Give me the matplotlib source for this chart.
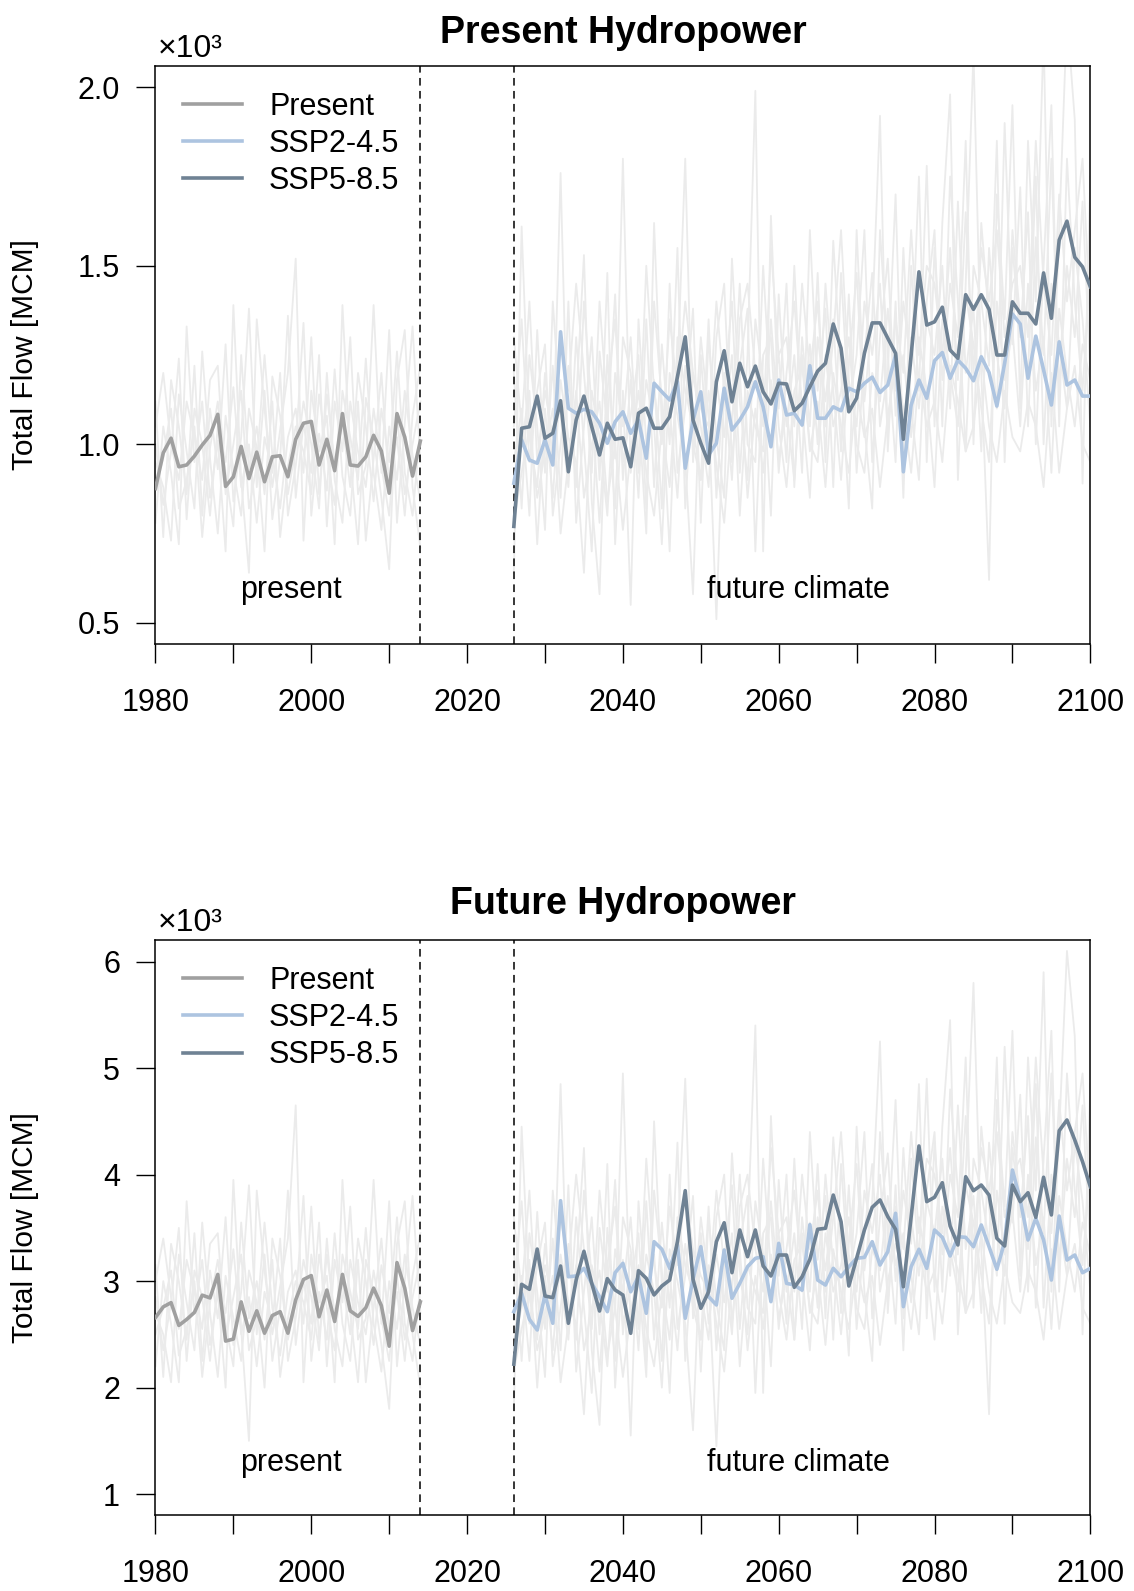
import matplotlib.pyplot as plt

plt.rcParams['font.family'] = ['Liberation Sans', 'DejaVu Sans']

years_present = list(range(1980, 2015))
years_future = list(range(2026, 2101))
xticks = [1980, 1990, 2000, 2010, 2020, 2030, 2040, 2050, 2060, 2070, 2080, 2090, 2100]
xticklabels = ['1980', '', '2000', '', '2020', '', '2040', '', '2060', '', '2080', '', '2100']

# ---------- Present Hydropower (values in 10^3 MCM) ----------
top_present = [0.876, 0.976, 1.017, 0.937, 0.942, 0.967, 0.998, 1.025, 1.084, 0.882,
               0.909, 0.994, 0.904, 0.978, 0.895, 0.965, 0.968, 0.909, 1.014, 1.059,
               1.064, 0.942, 1.014, 0.926, 1.086, 0.942, 0.939, 0.965, 1.025, 0.981,
               0.863, 1.086, 1.020, 0.911, 1.009]
top_ssp245 = [0.891, 1.012, 0.956, 0.947, 1.012, 0.942, 1.315, 1.101, 1.087, 1.098,
              1.091, 1.059, 1.003, 1.063, 1.091, 1.031, 1.068, 0.961, 1.171, 1.147,
              1.124, 1.175, 0.933, 1.068, 1.147, 0.970, 1.003, 1.157, 1.040, 1.068,
              1.105, 1.175, 1.105, 0.993, 1.180, 1.082, 1.087, 1.054, 1.220, 1.073,
              1.073, 1.105, 1.094, 1.157, 1.147, 1.171, 1.188, 1.145, 1.166, 1.250,
              0.923, 1.110, 1.180, 1.129, 1.234, 1.257, 1.185, 1.236, 1.213, 1.178,
              1.245, 1.201, 1.107, 1.227, 1.365, 1.337, 1.185, 1.303, 1.208, 1.110,
              1.287, 1.166, 1.180, 1.135, 1.135]
top_ssp585 = [0.770, 1.045, 1.049, 1.135, 1.017, 1.031, 1.122, 0.923, 1.068, 1.135,
              1.049, 0.970, 1.059, 1.014, 1.018, 0.937, 1.087, 1.101, 1.045, 1.045,
              1.077, 1.189, 1.301, 1.068, 1.003, 0.947, 1.175, 1.262, 1.119, 1.227,
              1.161, 1.219, 1.147, 1.113, 1.171, 1.169, 1.094, 1.115, 1.161, 1.205,
              1.227, 1.337, 1.269, 1.091, 1.129, 1.255, 1.340, 1.340, 1.297, 1.255,
              1.014, 1.250, 1.483, 1.334, 1.343, 1.384, 1.264, 1.241, 1.419, 1.378,
              1.419, 1.378, 1.250, 1.250, 1.399, 1.367, 1.367, 1.337, 1.480, 1.353,
              1.572, 1.625, 1.524, 1.497, 1.441]

# individual climate model runs (faint lines)
top_runs_present = [
    [0.78, 1.05, 0.92, 0.72, 1.33, 0.95, 1.12, 0.85, 1.01, 0.70, 1.39, 0.90, 0.64, 1.35, 1.10,
     0.88, 1.04, 1.20, 1.52, 0.73, 1.15, 0.98, 1.08, 0.72, 1.39, 0.96, 0.72, 1.13, 1.02, 0.85,
     0.65, 1.18, 1.32, 0.88, 0.71],
    [1.12, 0.74, 1.18, 1.05, 0.86, 1.22, 0.80, 1.10, 0.93, 1.28, 0.84, 1.02, 1.38, 0.88, 1.15,
     0.79, 0.96, 1.36, 0.85, 1.06, 0.92, 1.25, 0.77, 1.12, 0.98, 1.30, 0.86, 0.94, 1.39, 0.92,
     1.32, 0.78, 1.06, 1.33, 0.95],
    [0.95, 0.88, 0.73, 1.14, 0.98, 0.82, 1.26, 0.96, 0.75, 1.08, 0.93, 0.80, 1.10, 0.99, 0.70,
     1.19, 1.08, 0.86, 0.99, 1.34, 0.80, 1.03, 0.87, 1.21, 0.91, 0.80, 1.12, 0.73, 0.96, 1.20,
     0.88, 1.02, 0.80, 1.08, 1.22],
    [1.05, 1.20, 1.00, 0.90, 1.12, 1.02, 0.90, 1.18, 1.22, 0.86, 1.00, 1.15, 0.82, 0.94, 1.25,
     0.97, 0.82, 1.02, 1.10, 0.92, 1.30, 0.86, 1.14, 0.95, 1.06, 0.88, 1.20, 1.05, 0.84, 1.10,
     0.95, 1.26, 0.92, 0.80, 1.04],
    [0.88, 0.96, 1.10, 0.82, 0.90, 1.05, 0.74, 0.99, 1.12, 0.92, 0.77, 1.25, 0.93, 1.05, 0.86,
     1.12, 0.74, 0.94, 1.05, 0.98, 0.86, 1.14, 0.97, 0.83, 1.15, 1.02, 0.90, 1.24, 0.92, 0.76,
     1.05, 0.90, 1.15, 0.97, 0.84],
    [1.00, 0.83, 0.98, 1.24, 0.79, 1.10, 1.00, 0.80, 1.05, 0.95, 1.16, 0.88, 1.00, 0.78, 1.02,
     0.92, 1.20, 0.80, 0.94, 1.12, 1.00, 0.82, 1.20, 0.90, 0.78, 1.12, 0.98, 0.88, 1.10, 0.94,
     0.80, 1.08, 0.86, 1.00, 1.12],
]
top_runs_future = [
    [0.64, 1.61, 1.02, 0.88, 1.20, 0.95, 1.76, 0.90, 1.12, 1.53, 0.84, 0.58, 1.25, 0.96, 1.80,
     0.92, 1.10, 0.75, 1.62, 1.05, 0.88, 1.20, 1.80, 0.95, 1.30, 1.08, 0.51, 1.15, 1.40, 0.92,
     1.25, 1.99, 0.70, 1.64, 1.10, 1.45, 0.88, 1.30, 1.05, 1.48, 0.95, 1.57, 1.20, 0.82, 1.60,
     1.12, 1.35, 1.92, 0.98, 1.40, 0.85, 1.50, 1.15, 1.78, 1.05, 1.62, 1.98, 0.90, 1.45, 2.10,
     1.20, 0.62, 1.70, 1.35, 1.95, 1.10, 1.85, 1.40, 2.15, 1.05, 1.60, 2.20, 1.91, 0.89, 1.75],
    [0.95, 1.10, 0.80, 1.32, 0.92, 1.22, 0.85, 1.40, 0.78, 1.05, 1.30, 0.90, 1.48, 0.72, 1.15,
     0.55, 1.35, 1.00, 1.18, 0.82, 1.45, 0.92, 1.10, 1.38, 0.78, 1.30, 1.02, 0.85, 1.52, 1.12,
     0.90, 1.35, 1.18, 0.80, 1.42, 1.05, 1.25, 0.92, 1.60, 1.15, 1.38, 0.88, 1.48, 1.10, 1.25,
     1.60, 0.95, 1.30, 1.52, 1.08, 1.40, 1.22, 1.75, 0.95, 1.55, 1.18, 1.45, 1.30, 1.85, 1.00,
     1.62, 1.35, 1.10, 1.90, 1.28, 1.72, 1.05, 1.58, 1.25, 1.80, 1.15, 1.50, 1.30, 1.68, 1.20],
    [1.20, 0.82, 1.25, 1.05, 0.76, 1.40, 1.08, 0.88, 1.30, 1.00, 0.70, 1.26, 1.05, 1.42, 0.90,
     1.18, 0.85, 1.35, 0.88, 1.28, 1.00, 1.55, 0.82, 1.20, 1.05, 0.88, 1.30, 1.45, 0.95, 1.22,
     1.38, 0.70, 1.25, 1.30, 0.92, 1.20, 1.40, 1.10, 0.85, 1.30, 1.12, 1.35, 0.98, 1.42, 0.92,
     1.25, 1.48, 1.05, 1.20, 1.70, 0.95, 1.30, 1.10, 1.35, 1.25, 1.50, 1.10, 1.68, 1.20, 1.38,
     0.98, 1.55, 1.25, 1.10, 1.60, 1.35, 1.20, 1.75, 1.00, 1.45, 1.28, 1.10, 1.55, 1.35, 1.05],
    [0.88, 1.00, 1.15, 0.72, 1.10, 0.85, 1.18, 1.02, 0.95, 0.64, 1.15, 1.02, 0.80, 1.20, 1.05,
     1.30, 0.92, 1.18, 1.05, 0.72, 1.20, 1.08, 0.95, 0.58, 1.25, 0.95, 1.18, 1.02, 1.25, 0.80,
     1.15, 1.05, 0.98, 1.35, 1.05, 0.88, 1.15, 1.22, 1.00, 0.95, 1.25, 1.05, 1.15, 1.30, 1.00,
     0.92, 1.20, 1.12, 1.38, 1.15, 1.25, 1.02, 1.30, 1.15, 0.88, 1.35, 1.20, 1.05, 1.42, 1.28,
     1.10, 0.95, 1.40, 1.18, 1.32, 1.05, 1.45, 1.15, 1.30, 0.92, 1.38, 1.20, 1.05, 1.28, 1.18],
    [1.05, 1.35, 0.95, 1.15, 1.28, 0.80, 1.00, 1.22, 0.88, 1.40, 1.10, 0.78, 1.15, 1.35, 0.95,
     1.08, 1.25, 0.82, 1.40, 1.12, 0.70, 1.30, 1.15, 1.05, 0.90, 1.35, 0.85, 1.20, 1.05, 1.45,
     1.00, 0.95, 1.50, 1.12, 1.25, 0.95, 1.50, 1.05, 1.28, 1.00, 1.45, 1.15, 0.90, 1.22, 1.48,
     1.05, 0.82, 1.60, 1.25, 0.95, 1.55, 1.10, 0.90, 1.40, 1.60, 1.05, 1.75, 1.40, 0.98, 1.50,
     1.40, 1.22, 1.85, 0.95, 1.55, 1.30, 1.65, 1.00, 1.50, 1.95, 1.05, 1.80, 1.40, 1.15, 1.50],
    [0.78, 0.92, 1.05, 0.85, 0.98, 1.10, 0.75, 0.95, 1.15, 0.85, 1.00, 1.12, 0.84, 1.00, 0.76,
     0.98, 1.15, 0.92, 0.80, 1.05, 1.10, 0.85, 1.22, 1.00, 0.90, 1.15, 0.94, 0.78, 1.08, 1.20,
     0.85, 1.10, 0.92, 1.18, 0.96, 1.10, 0.90, 1.25, 0.98, 1.12, 0.88, 1.20, 1.05, 0.92, 1.15,
     1.02, 1.10, 0.88, 1.08, 1.22, 1.10, 0.92, 1.20, 1.05, 1.12, 0.95, 1.22, 1.12, 0.98, 1.05,
     1.25, 1.05, 0.95, 1.15, 1.02, 0.98, 1.12, 1.05, 0.88, 1.20, 0.92, 1.10, 1.22, 1.00, 0.95],
    [1.30, 1.05, 1.40, 0.95, 1.15, 1.02, 1.30, 1.15, 1.45, 1.20, 0.92, 1.40, 1.10, 0.82, 1.30,
     1.20, 0.95, 1.50, 1.15, 1.00, 1.35, 1.15, 1.40, 1.20, 1.10, 1.05, 1.40, 1.15, 0.90, 1.35,
     1.45, 1.20, 1.05, 1.55, 1.25, 1.30, 1.05, 1.45, 1.20, 1.40, 1.05, 1.30, 1.60, 1.18, 1.05,
     1.40, 1.25, 1.45, 1.02, 1.35, 1.20, 1.60, 1.25, 1.50, 1.45, 1.25, 1.55, 1.18, 1.65, 1.20,
     1.55, 1.40, 1.60, 1.30, 1.45, 1.50, 1.30, 1.85, 1.45, 1.25, 1.70, 1.40, 1.60, 1.80, 1.35],
]

# ---------- Future Hydropower (values in 10^3 MCM) ----------
bot_present = [2.658, 2.758, 2.798, 2.584, 2.640, 2.706, 2.868, 2.842, 3.063, 2.437,
               2.456, 2.805, 2.529, 2.721, 2.511, 2.677, 2.713, 2.511, 2.824, 3.015,
               3.052, 2.665, 2.916, 2.621, 3.063, 2.721, 2.669, 2.750, 2.934, 2.769,
               2.389, 3.174, 2.934, 2.536, 2.805]
bot_ssp245 = [2.713, 2.885, 2.641, 2.541, 2.870, 2.604, 3.755, 3.041, 3.048, 3.120,
              2.979, 2.854, 2.713, 3.079, 3.167, 2.900, 3.041, 2.698, 3.370, 3.299,
              3.120, 3.339, 2.651, 3.017, 3.323, 2.854, 2.776, 3.292, 2.839, 2.979,
              3.135, 3.214, 3.229, 2.807, 3.355, 2.979, 2.964, 2.915, 3.530, 3.010,
              2.963, 3.120, 3.041, 3.135, 3.214, 3.223, 3.370, 3.151, 3.276, 3.637,
              2.760, 3.135, 3.299, 3.120, 3.480, 3.411, 3.236, 3.417, 3.411, 3.323,
              3.527, 3.323, 3.111, 3.370, 4.043, 3.762, 3.386, 3.590, 3.386, 3.010,
              3.611, 3.198, 3.245, 3.079, 3.120]
bot_ssp585 = [2.220, 2.970, 2.923, 3.301, 2.860, 2.845, 3.142, 2.604, 3.010, 3.280,
              2.979, 2.719, 3.023, 2.917, 2.870, 2.510, 3.098, 3.026, 2.870, 2.954,
              3.010, 3.370, 3.849, 3.017, 2.745, 2.900, 3.370, 3.548, 3.079, 3.480,
              3.229, 3.480, 3.142, 3.048, 3.245, 3.245, 2.942, 3.041, 3.205, 3.487,
              3.496, 3.808, 3.558, 2.954, 3.214, 3.480, 3.693, 3.762, 3.605, 3.486,
              2.947, 3.605, 4.269, 3.746, 3.787, 3.924, 3.517, 3.339, 3.980, 3.849,
              3.902, 3.808, 3.402, 3.330, 3.902, 3.746, 3.830, 3.599, 3.975, 3.621,
              4.412, 4.513, 4.325, 4.121, 3.886]

bot_runs_present = [
    [2.20, 3.00, 2.60, 2.05, 3.75, 2.70, 3.20, 2.40, 2.90, 2.00, 3.95, 2.55, 1.50, 3.85, 3.10,
     2.50, 2.95, 3.40, 4.65, 2.05, 3.25, 2.80, 3.05, 2.05, 3.95, 2.70, 2.05, 3.20, 2.90, 2.40,
     1.80, 3.35, 3.75, 2.50, 2.00],
    [3.15, 2.10, 3.35, 3.00, 2.45, 3.45, 2.25, 3.10, 2.65, 3.60, 2.40, 2.90, 3.90, 2.50, 3.25,
     2.25, 2.75, 3.85, 2.40, 3.00, 2.60, 3.55, 2.20, 3.20, 2.80, 3.70, 2.45, 2.65, 3.95, 2.60,
     3.75, 2.20, 3.00, 3.80, 2.70],
    [2.70, 2.50, 2.05, 3.25, 2.80, 2.35, 3.55, 2.70, 2.10, 3.05, 2.65, 2.25, 3.10, 2.80, 2.00,
     3.40, 3.05, 2.45, 2.80, 3.80, 2.25, 2.90, 2.45, 3.45, 2.60, 2.25, 3.20, 2.05, 2.75, 3.40,
     2.50, 2.90, 2.25, 3.05, 3.45],
    [3.00, 3.40, 2.85, 2.55, 3.20, 2.90, 2.55, 3.35, 3.45, 2.45, 2.85, 3.25, 2.35, 2.65, 3.55,
     2.75, 2.30, 2.90, 3.10, 2.60, 3.70, 2.45, 3.25, 2.70, 3.00, 2.50, 3.40, 3.00, 2.40, 3.15,
     2.70, 3.60, 2.60, 2.25, 2.95],
    [2.50, 2.75, 3.10, 2.30, 2.55, 3.00, 2.10, 2.80, 3.20, 2.60, 2.20, 3.55, 2.65, 3.00, 2.45,
     3.20, 2.10, 2.65, 3.00, 2.80, 2.45, 3.25, 2.75, 2.35, 3.25, 2.90, 2.55, 3.50, 2.60, 2.15,
     3.00, 2.55, 3.25, 2.75, 2.40],
    [2.85, 2.35, 2.80, 3.50, 2.25, 3.10, 2.85, 2.25, 3.00, 2.70, 3.30, 2.50, 2.85, 2.20, 2.90,
     2.60, 3.40, 2.25, 2.65, 3.20, 2.85, 2.35, 3.40, 2.55, 2.20, 3.20, 2.80, 2.50, 3.10, 2.65,
     2.25, 3.05, 2.45, 2.85, 3.20],
]
bot_runs_future = [
    [1.80, 4.45, 2.85, 2.45, 3.35, 2.65, 4.85, 2.50, 3.10, 4.25, 2.35, 1.65, 3.50, 2.70, 4.95,
     2.55, 3.05, 2.10, 4.50, 2.95, 2.45, 3.35, 4.90, 2.65, 3.60, 3.00, 1.45, 3.20, 3.90, 2.55,
     3.45, 5.40, 1.95, 4.55, 3.05, 4.00, 2.45, 3.60, 2.90, 4.10, 2.65, 4.35, 3.30, 2.30, 4.45,
     3.10, 3.75, 5.25, 2.70, 3.90, 2.35, 4.15, 3.20, 4.90, 2.90, 4.45, 5.45, 2.50, 4.00, 5.80,
     3.30, 1.75, 4.70, 3.70, 5.35, 3.05, 5.10, 3.85, 5.90, 2.90, 4.40, 6.10, 5.30, 2.50, 4.85],
    [2.65, 3.05, 2.25, 3.65, 2.55, 3.40, 2.35, 3.90, 2.15, 2.90, 3.60, 2.50, 4.10, 2.00, 3.20,
     1.55, 3.75, 2.80, 3.25, 2.25, 4.00, 2.55, 3.05, 3.80, 2.15, 3.60, 2.80, 2.35, 4.20, 3.10,
     2.50, 3.75, 3.25, 2.20, 3.95, 2.90, 3.45, 2.55, 4.40, 3.20, 3.80, 2.45, 4.10, 3.05, 3.45,
     4.40, 2.65, 3.60, 4.20, 3.00, 3.85, 3.35, 4.85, 2.65, 4.30, 3.25, 4.00, 3.60, 5.10, 2.75,
     4.45, 3.70, 3.05, 5.20, 3.55, 4.75, 2.90, 4.35, 3.45, 4.95, 3.15, 4.15, 3.60, 4.65, 3.30],
    [3.30, 2.25, 3.45, 2.90, 2.10, 3.85, 3.00, 2.45, 3.60, 2.75, 1.95, 3.50, 2.90, 3.95, 2.50,
     3.25, 2.35, 3.75, 2.45, 3.55, 2.75, 4.30, 2.25, 3.30, 2.90, 2.45, 3.60, 4.00, 2.60, 3.35,
     3.80, 1.95, 3.45, 3.60, 2.55, 3.30, 3.85, 3.05, 2.35, 3.60, 3.10, 3.75, 2.70, 3.90, 2.55,
     3.45, 4.10, 2.90, 3.30, 4.70, 2.65, 3.60, 3.05, 3.75, 3.45, 4.15, 3.05, 4.65, 3.30, 3.80,
     2.70, 4.30, 3.45, 3.05, 4.40, 3.75, 3.30, 4.85, 2.75, 4.00, 3.55, 3.05, 4.30, 3.75, 2.90],
    [2.45, 2.75, 3.20, 2.00, 3.05, 2.35, 3.25, 2.80, 2.60, 1.75, 3.15, 2.80, 2.20, 3.30, 2.90,
     3.60, 2.55, 3.25, 2.90, 2.00, 3.30, 3.00, 2.60, 1.60, 3.45, 2.60, 3.25, 2.80, 3.45, 2.20,
     3.15, 2.90, 2.70, 3.75, 2.90, 2.45, 3.20, 3.35, 2.75, 2.60, 3.45, 2.90, 3.15, 3.60, 2.75,
     2.55, 3.30, 3.10, 3.80, 3.15, 3.45, 2.80, 3.60, 3.15, 2.45, 3.70, 3.30, 2.90, 3.90, 3.55,
     3.05, 2.60, 3.85, 3.25, 3.65, 2.90, 4.00, 3.15, 3.60, 2.55, 3.80, 3.30, 2.90, 3.55, 3.25],
    [2.90, 3.75, 2.60, 3.15, 3.55, 2.20, 2.75, 3.35, 2.45, 3.85, 3.05, 2.15, 3.15, 3.70, 2.60,
     2.95, 3.45, 2.25, 3.85, 3.10, 1.95, 3.60, 3.15, 2.90, 2.45, 3.70, 2.35, 3.30, 2.90, 4.00,
     2.75, 2.60, 4.15, 3.10, 3.45, 2.60, 4.15, 2.90, 3.55, 2.75, 4.00, 3.15, 2.50, 3.35, 4.10,
     2.90, 2.25, 4.40, 3.45, 2.60, 4.25, 3.05, 2.50, 3.85, 4.40, 2.90, 4.80, 3.85, 2.70, 4.15,
     3.85, 3.35, 5.10, 2.60, 4.25, 3.60, 4.55, 2.75, 4.15, 5.35, 2.90, 4.95, 3.85, 3.15, 4.15],
    [2.15, 2.55, 2.90, 2.35, 2.70, 3.05, 2.05, 2.60, 3.15, 2.35, 2.75, 3.10, 2.30, 2.75, 2.10,
     2.70, 3.15, 2.55, 2.20, 2.90, 3.05, 2.35, 3.35, 2.75, 2.45, 3.15, 2.60, 2.15, 3.00, 3.30,
     2.35, 3.05, 2.55, 3.25, 2.65, 3.05, 2.45, 3.45, 2.70, 3.10, 2.40, 3.30, 2.90, 2.55, 3.15,
     2.80, 3.05, 2.40, 3.00, 3.35, 3.05, 2.55, 3.30, 2.90, 3.10, 2.60, 3.35, 3.10, 2.70, 2.90,
     3.45, 2.90, 2.60, 3.15, 2.80, 2.70, 3.10, 2.90, 2.45, 3.30, 2.55, 3.05, 3.35, 2.75, 2.60],
    [3.60, 2.90, 3.85, 2.60, 3.15, 2.80, 3.60, 3.15, 4.00, 3.30, 2.55, 3.85, 3.05, 2.25, 3.60,
     3.30, 2.60, 4.15, 3.15, 2.75, 3.70, 3.15, 3.85, 3.30, 3.05, 2.90, 3.85, 3.15, 2.50, 3.70,
     4.00, 3.30, 2.90, 4.25, 3.45, 3.60, 2.90, 4.00, 3.30, 3.85, 2.90, 3.60, 4.40, 3.25, 2.90,
     3.85, 3.45, 4.00, 2.80, 3.70, 3.30, 4.40, 3.45, 4.15, 4.00, 3.45, 4.25, 3.25, 4.55, 3.30,
     4.25, 3.85, 4.40, 3.60, 4.00, 4.15, 3.60, 5.10, 4.00, 3.45, 4.70, 3.85, 4.40, 4.95, 3.70],
]

col_run = '#ebebeb'
col_present = '#a0a0a0'
col_ssp245 = '#adc4e0'
col_ssp585 = '#6f8294'


def draw_panel(ax, present, ssp245, ssp585, runs_present, runs_future,
               ylim, yticks, yticklabels, text_y):
    for run in runs_present:
        ax.plot(years_present, run, color=col_run, lw=1.3, zorder=1)
    for run in runs_future:
        ax.plot(years_future, run, color=col_run, lw=1.3, zorder=1)

    for x in (2014, 2026):
        ax.axvline(x, color='black', lw=1.1, linestyle=(0, (5, 3.5)), zorder=2)

    l1, = ax.plot(years_present, present, color=col_present, lw=2.6, zorder=3, label='Present')
    l2, = ax.plot(years_future, ssp245, color=col_ssp245, lw=2.6, zorder=3, label='SSP2-4.5')
    l3, = ax.plot(years_future, ssp585, color=col_ssp585, lw=2.6, zorder=4, label='SSP5-8.5')

    ax.set_xlim(1980, 2100)
    ax.set_ylim(*ylim)
    ax.set_xticks(xticks)
    ax.set_xticklabels(xticklabels)
    ax.set_yticks(yticks)
    ax.set_yticklabels(yticklabels)
    ax.tick_params(axis='both', direction='out', length=13.5, width=1.0, labelsize=22, pad=12)
    ax.tick_params(axis='x', pad=18)
    for s in ax.spines.values():
        s.set_linewidth(1.1)

    ax.text(1997.4, text_y, 'present', fontsize=22, ha='center', va='center')
    ax.text(2062.5, text_y, 'future climate', fontsize=22, ha='center', va='center')
    ax.text(0.002, 1.004, '×10³', transform=ax.transAxes, fontsize=23, ha='left', va='bottom')

    ax.legend(handles=[l1, l2, l3], loc='upper left', bbox_to_anchor=(0.029, 0.955),
              frameon=False, fontsize=22, handlelength=1.93, handletextpad=0.9,
              labelspacing=0.23, borderpad=0, borderaxespad=0)


fig = plt.figure(figsize=(11.34, 15.91), dpi=100)
ax1 = fig.add_axes([0.1371, 0.5951, 0.8244, 0.3635])
ax2 = fig.add_axes([0.1371, 0.0475, 0.8244, 0.3615])

draw_panel(ax1, top_present, top_ssp245, top_ssp585, top_runs_present, top_runs_future,
           (0.44, 2.06), [0.5, 1.0, 1.5, 2.0], ['0.5', '1.0', '1.5', '2.0'], 0.592)
draw_panel(ax2, bot_present, bot_ssp245, bot_ssp585, bot_runs_present, bot_runs_future,
           (0.8, 6.2), [1, 2, 3, 4, 5, 6], ['1', '2', '3', '4', '5', '6'], 1.295)

fig.text(0.5493, 0.9795, 'Present Hydropower', fontsize=27, fontweight='bold', ha='center', va='center')
fig.text(0.5493, 0.4318, 'Future Hydropower', fontsize=27, fontweight='bold', ha='center', va='center')
fig.text(0.022, 0.7769, 'Total Flow [MCM]', fontsize=21.5, rotation=90, ha='center', va='center')
fig.text(0.022, 0.2282, 'Total Flow [MCM]', fontsize=21.5, rotation=90, ha='center', va='center')

fig.savefig('out.png', dpi=100)
